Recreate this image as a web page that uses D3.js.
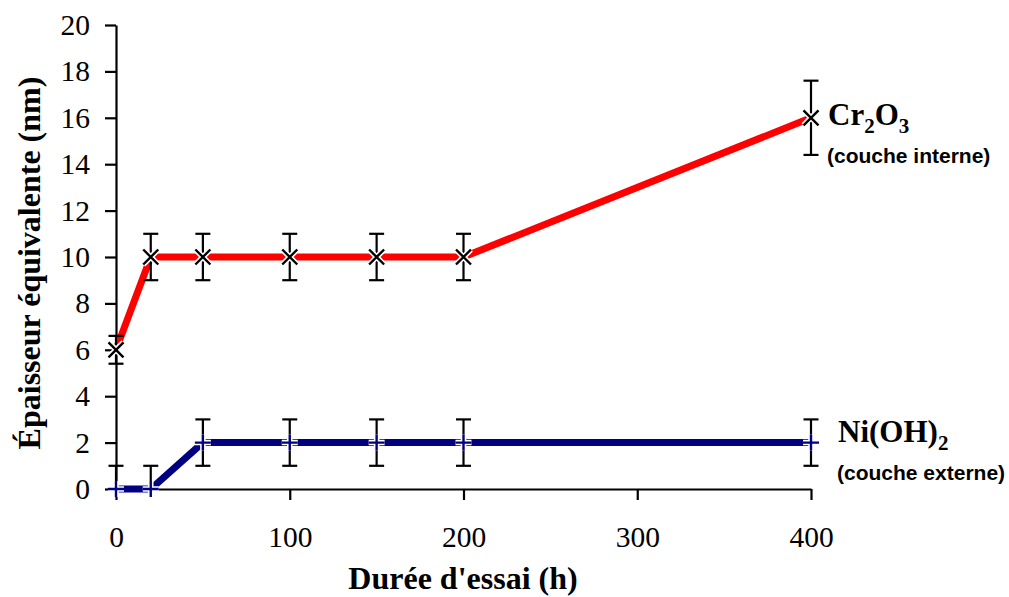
<!DOCTYPE html>
<html><head><meta charset="utf-8">
<script src="https://cdn.jsdelivr.net/npm/d3@7"></script>
<style>body{margin:0;background:#fff}svg{display:block}</style>
</head><body>
<svg id="c" width="1009" height="597"></svg>
<script>
const hours = [0, 20, 50, 100, 150, 200, 400];
const cr2o3 = [6, 10, 10, 10, 10, 10, 16];
const cr2o3Err = [0.6, 1, 1, 1, 1, 1, 1.6];
const nioh2 = [0, 0, 2, 2, 2, 2, 2];
const nioh2Err = [1, 1, 1, 1, 1, 1, 1];
const xTicks = [0, 100, 200, 300, 400];
const yTicks = [0, 2, 4, 6, 8, 10, 12, 14, 16, 18, 20];

const svg = d3.select("#c");
const x = d3.scaleLinear().domain([0, 400]).range([116, 811]);
const y = d3.scaleLinear().domain([0, 20]).range([489, 25]);
const serif = "'Liberation Serif','Times New Roman',serif";
const sans = "'Liberation Sans',Arial,sans-serif";

// axes
const xa = svg.append("g").attr("transform", `translate(0,${y(0)})`)
  .call(d3.axisBottom(x).tickValues(xTicks).tickSize(11).tickSizeOuter(0).tickPadding(26));
const ya = svg.append("g").attr("transform", `translate(${x(0)},0)`)
  .call(d3.axisLeft(y).tickValues(yTicks).tickSize(11).tickSizeOuter(0).tickPadding(15));
[xa, ya].forEach(g => {
  g.selectAll("path.domain").attr("stroke", "#000").attr("stroke-width", 2.2);
  g.selectAll(".tick line").attr("stroke", "#000").attr("stroke-width", 2.2);
  g.selectAll(".tick text").attr("font-family", serif).attr("font-size", 29.5).attr("fill", "#000");
});

// axis titles
svg.append("text").attr("x", 463).attr("y", 589).attr("text-anchor", "middle")
  .attr("font-family", serif).attr("font-weight", "bold").attr("font-size", 32)
  .text("Durée d'essai (h)");
svg.append("text").attr("transform", "translate(40,263) rotate(-90)").attr("text-anchor", "middle")
  .attr("font-family", serif).attr("font-weight", "bold").attr("font-size", 32)
  .text("Épaisseur équivalente (nm)");

const series = [
  {vals: cr2o3, err: cr2o3Err, color: "#ff0000", marker: "x", markColor: "#000"},
  {vals: nioh2, err: nioh2Err, color: "#000080", marker: "+", markColor: "#000080"}
];

svg.append("clipPath").attr("id", "pc").append("rect")
  .attr("x", 0).attr("y", 0).attr("width", 1009).attr("height", y(0));

const line = d3.line().x(d => x(d[0])).y(d => y(d[1]));
series.forEach(s => {
  const pts = hours.map((h, i) => [h, s.vals[i], s.err[i]]);
  svg.append("path").datum(pts).attr("d", line).attr("fill", "none")
    .attr("stroke", s.color).attr("stroke-width", 7);
});

series.forEach(s => {
  const pts = hours.map((h, i) => [h, s.vals[i], s.err[i]]);
  const g = svg.append("g").attr("clip-path", "url(#pc)");
  pts.forEach(p => {
    const cx = x(p[0]);
    g.append("line").attr("x1", cx).attr("x2", cx).attr("y1", y(p[1] + p[2])).attr("y2", y(p[1] - p[2]))
      .attr("stroke", "#000").attr("stroke-width", 2.2);
    [p[1] + p[2], p[1] - p[2]].forEach(v => {
      g.append("line").attr("x1", cx - 7.5).attr("x2", cx + 7.5).attr("y1", y(v)).attr("y2", y(v))
        .attr("stroke", "#000").attr("stroke-width", 2.2);
    });
  });
});

series.forEach(s => {
  const pts = hours.map((h, i) => [h, s.vals[i]]);
  pts.forEach(p => {
    const cx = x(p[0]), cy = y(p[1]);
    let d;
    if (s.marker === "x") { const r = 7.5; d = `M${cx-r},${cy-r}L${cx+r},${cy+r}M${cx-r},${cy+r}L${cx+r},${cy-r}`; }
    else { const r = 8; d = `M${cx-r},${cy}L${cx+r},${cy}M${cx},${cy-r}L${cx},${cy+r}`; }
    svg.append("path").attr("d", d).attr("stroke", "#fff").attr("stroke-width", 5.5).attr("fill", "none");
    svg.append("path").attr("d", d).attr("stroke", s.markColor).attr("stroke-width", 2.4).attr("fill", "none");
  });
});

// series labels
const t1 = svg.append("text").attr("x", 828).attr("y", 125).attr("font-family", serif)
  .attr("font-weight", "bold").attr("font-size", 31);
t1.append("tspan").text("Cr");
t1.append("tspan").attr("font-size", 21).attr("dy", 8).text("2");
t1.append("tspan").attr("dy", -8).text("O");
t1.append("tspan").attr("font-size", 21).attr("dy", 8).text("3");
svg.append("text").attr("x", 827).attr("y", 163).attr("font-family", sans)
  .attr("font-weight", "bold").attr("font-size", 21).text("(couche interne)");

const t2 = svg.append("text").attr("x", 838).attr("y", 442).attr("font-family", serif)
  .attr("font-weight", "bold").attr("font-size", 31);
t2.append("tspan").text("Ni(OH)");
t2.append("tspan").attr("font-size", 21).attr("dy", 8).text("2");
svg.append("text").attr("x", 837).attr("y", 480).attr("font-family", sans)
  .attr("font-weight", "bold").attr("font-size", 21).text("(couche externe)");
</script>
</body></html>
